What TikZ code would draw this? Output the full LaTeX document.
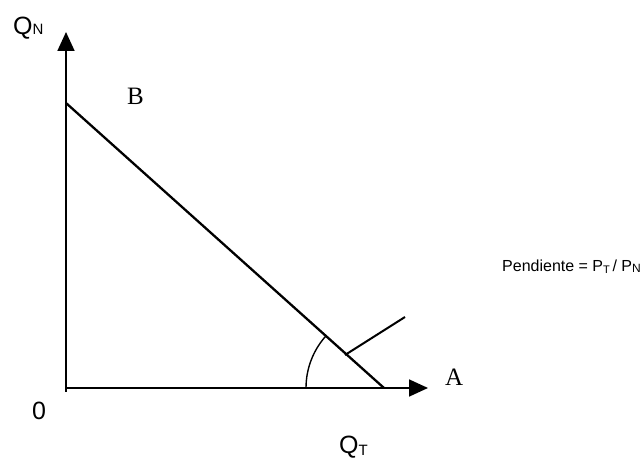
\documentclass[tikz,border=0pt]{standalone}
\usepackage{fontspec}
\setmainfont{Liberation Serif}
\newfontfamily\arialf{Liberation Sans}
\usetikzlibrary{arrows.meta}
\tikzset{
  axis/.style={line width=1.8pt,-{Triangle[length=19pt,width=17pt]}},
  budget/.style={line width=2.3pt},
  thin line/.style={line width=2pt},
  sanslabel/.style={inner sep=0pt,font=\arialf\fontsize{25}{29}\selectfont},
  seriflabel/.style={inner sep=0pt,font=\fontsize{25}{30}\selectfont},
  smalllabel/.style={inner sep=0pt,font=\arialf\fontsize{16}{19}\selectfont}
}
\begin{document}
\begin{tikzpicture}[x=1pt,y=1pt]
\useasboundingbox (0,0) rectangle (642,462);
% key points
\coordinate (O) at (66,74);
\coordinate (ytop) at (66,430);
\coordinate (xend) at (428,74);
\coordinate (Bpt) at (66,359);
\coordinate (Apt) at (384,74);
\coordinate (p1) at (345,107);
\coordinate (p2) at (405,145);
% axes
\draw[axis] ([yshift=-4pt]O) -- (ytop);
\draw[axis] (O) -- (xend);
% budget line
\draw[budget] (Bpt) -- (Apt);
% angle arc
\draw[line width=1.4pt] ([shift={(180:78)}]Apt) arc[start angle=180,end angle=138,radius=78];
% pointer
\draw[thin line] (p1) -- (p2);
% labels
\node[sanslabel,anchor=base west] (qn) at (13,427) {Q\fontsize{15}{15}\selectfont N};
\node[seriflabel,anchor=base west] (b) at (127,357) {B};
\node[sanslabel,anchor=base west] (zero) at (32,42) {0};
\node[sanslabel,anchor=base west] (qt) at (339,8) {Q\raisebox{-2pt}{\fontsize{15}{15}\selectfont T}};
\node[seriflabel,anchor=base west] (a) at (445,76) {A};
\node[smalllabel,anchor=base east] (pend) at (641,190) {Pendiente = P\raisebox{-2pt}{\fontsize{11}{11}\selectfont T}\,/ P\raisebox{-1pt}{\fontsize{12}{12}\selectfont N}};
\end{tikzpicture}
\end{document}
